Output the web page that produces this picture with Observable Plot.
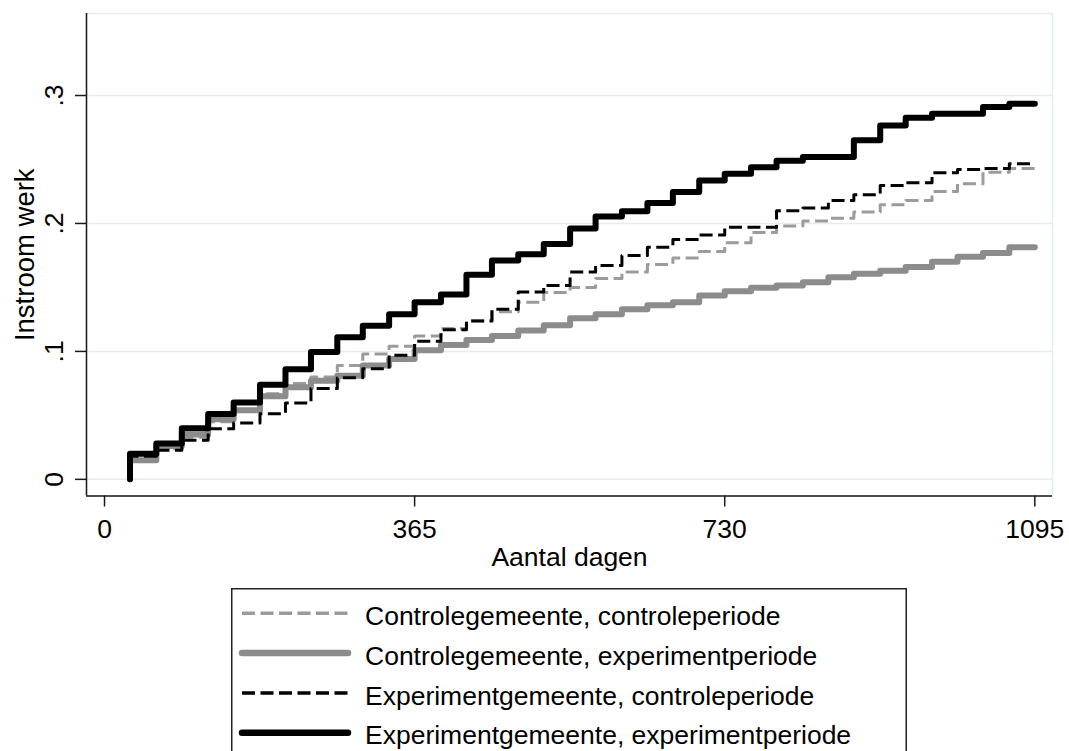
<!DOCTYPE html>
<html><head><meta charset="utf-8">
<script src="https://cdn.jsdelivr.net/npm/d3@7"></script>
<script src="https://cdn.jsdelivr.net/npm/@observablehq/plot@0.6"></script>
<style>
html,body{margin:0;padding:0;background:#fff;overflow:hidden;}
body{width:1069px;height:751px;position:relative;font-family:"Liberation Sans",Arial,sans-serif;}
#chart{position:absolute;left:0;top:0;}
#legend{position:absolute;left:231px;top:588px;}
</style></head><body>
<div id="chart"></div>
<div id="legend"></div>
<script>
// Step days (time of each jump) and cumulative inflow after each jump
const days = [30, 61, 91, 122, 152, 183, 213, 243, 274, 304, 335, 365, 396, 426, 456, 487, 517, 548, 578, 609, 639, 669, 700, 730, 761, 791, 822, 852, 882, 913, 943, 974, 1004, 1034, 1065, 1095];

const seriesNames = [
  "Controlegemeente, controleperiode",
  "Controlegemeente, experimentperiode",
  "Experimentgemeente, controleperiode",
  "Experimentgemeente, experimentperiode"
];

const ccValues = [0.015, 0.024, 0.033, 0.045, 0.054, 0.067, 0.075, 0.080, 0.089, 0.098, 0.104, 0.112, 0.118, 0.124, 0.131, 0.1385, 0.146, 0.150, 0.157, 0.162, 0.168, 0.173, 0.178, 0.185, 0.193, 0.198, 0.202, 0.204, 0.209, 0.2146, 0.218, 0.225, 0.231, 0.240, 0.243, 0.243];
const ceValues = [0.015, 0.026, 0.035, 0.047, 0.054, 0.065, 0.072, 0.077, 0.081, 0.089, 0.094, 0.101, 0.105, 0.109, 0.112, 0.1164, 0.1205, 0.126, 0.129, 0.133, 0.136, 0.1385, 0.1437, 0.147, 0.1497, 0.1516, 0.154, 0.158, 0.1607, 0.163, 0.166, 0.170, 0.174, 0.177, 0.1815, 0.1815];
const ecValues = [0.018, 0.0227, 0.0305, 0.0396, 0.044, 0.0513, 0.0596, 0.071, 0.0794, 0.0865, 0.097, 0.108, 0.117, 0.1237, 0.133, 0.1464, 0.1516, 0.162, 0.1672, 0.175, 0.1815, 0.1875, 0.191, 0.197, 0.197, 0.210, 0.212, 0.218, 0.2225, 0.2297, 0.2318, 0.2396, 0.2422, 0.243, 0.2466, 0.2466];
const eeValues = [0.020, 0.028, 0.040, 0.051, 0.060, 0.074, 0.086, 0.0995, 0.111, 0.120, 0.129, 0.1385, 0.1445, 0.160, 0.171, 0.176, 0.184, 0.196, 0.2055, 0.2096, 0.216, 0.2245, 0.2336, 0.2388, 0.244, 0.249, 0.252, 0.252, 0.265, 0.2766, 0.2826, 0.2857, 0.2857, 0.291, 0.2935, 0.2935];

const xTicks = [0, 365, 730, 1095];
const yTicks = [0, 0.1, 0.2, 0.3];
const yTickLabels = ["0", ".1", ".2", ".3"];

const xTitle = "Aantal dagen";
const yTitle = "Instroom werk";

// styles
const styles = [
  {stroke: "#9b9b9b", strokeWidth: 3, dash: "13,5.5"},
  {stroke: "#8c8c8c", strokeWidth: 6, dash: null},
  {stroke: "#000000", strokeWidth: 3, dash: "13,5.5"},
  {stroke: "#000000", strokeWidth: 6, dash: null}
];
const allValues = [ccValues, ceValues, ecValues, eeValues];

function toPoints(vals, name) {
  const pts = [{day: days[0], value: 0, series: name}];
  days.forEach((d, i) => pts.push({day: d, value: vals[i], series: name}));
  return pts;
}

const xDomain = [-21.2, 1115.8];
const yDomain = [-0.013, 0.3641];
const axisColor = "#1a1a1a";
const gridColor = "#e4edf0";
const font = "Liberation Sans, Arial, sans-serif";
const fs = 26.5;

const lineMarks = allValues.map((vals, i) => Plot.line(toPoints(vals, seriesNames[i]), {
  x: "day", y: "value", curve: "step-after",
  stroke: styles[i].stroke, strokeWidth: styles[i].strokeWidth,
  strokeDasharray: styles[i].dash || undefined,
  strokeLinecap: styles[i].dash ? "butt" : "round",
  strokeLinejoin: "round"
}));

const chart = Plot.plot({
  width: 1069, height: 580,
  marginLeft: 86, marginRight: 17, marginTop: 13, marginBottom: 84.5,
  x: {domain: xDomain},
  y: {domain: yDomain},
  style: {fontFamily: font, fontSize: fs + "px", color: "#000", background: "#fff"},
  marks: [
    Plot.frame({stroke: gridColor, strokeWidth: 1.5}),
    Plot.gridY(yTicks, {stroke: gridColor, strokeOpacity: 1, strokeWidth: 1.5}),
    ...lineMarks,
    Plot.ruleX([xDomain[0]], {stroke: axisColor, strokeWidth: 1.5}),
    Plot.ruleY([yDomain[0]], {stroke: axisColor, strokeWidth: 1.5}),
    Plot.axisX(xTicks, {tickSize: 11, tickPadding: 12.5, tickFormat: d => String(d), fontSize: fs, label: null, stroke: axisColor, strokeWidth: 1.5}),
    Plot.axisY(yTicks, {tickSize: 11, tickFormat: () => "", label: null, stroke: axisColor, strokeWidth: 1.5}),
    Plot.text(yTicks, {y: d => d, text: (d, i) => yTickLabels[i], frameAnchor: "left", rotate: -90, textAnchor: "middle", lineAnchor: "bottom", dx: -24, fontSize: fs}),
    Plot.text([yTitle], {text: d => d, frameAnchor: "left", rotate: -90, textAnchor: "middle", lineAnchor: "bottom", dx: -53, fontSize: 27.5}),
    Plot.text([xTitle], {text: d => d, frameAnchor: "bottom", lineAnchor: "top", dy: 51.2, fontSize: fs})
  ]
});
document.getElementById("chart").appendChild(chart);

// Legend
const lw = 676, lh = 163;
const svg = d3.select("#legend").append("svg").attr("width", lw).attr("height", lh)
  .style("font-family", font);
svg.append("rect").attr("x", 0.75).attr("y", 0.75).attr("width", lw - 1.5).attr("height", 200)
  .attr("fill", "#fff").attr("stroke", "#222").attr("stroke-width", 1.5);
seriesNames.forEach((name, i) => {
  const yy = 25.3 + i * 39.8;
  const s = styles[i];
  const ln = svg.append("line").attr("x1", 11).attr("x2", 117).attr("y1", yy).attr("y2", yy)
    .attr("stroke", s.stroke).attr("stroke-width", s.dash ? 3.5 : 6.5)
    .attr("stroke-linecap", s.dash ? "butt" : "round");
  if (s.dash) ln.attr("stroke-dasharray", s.dash);
  svg.append("text").attr("x", 134).attr("y", yy + 11.7).attr("font-size", fs).attr("fill", "#000").text(name);
});
</script>
</body></html>
